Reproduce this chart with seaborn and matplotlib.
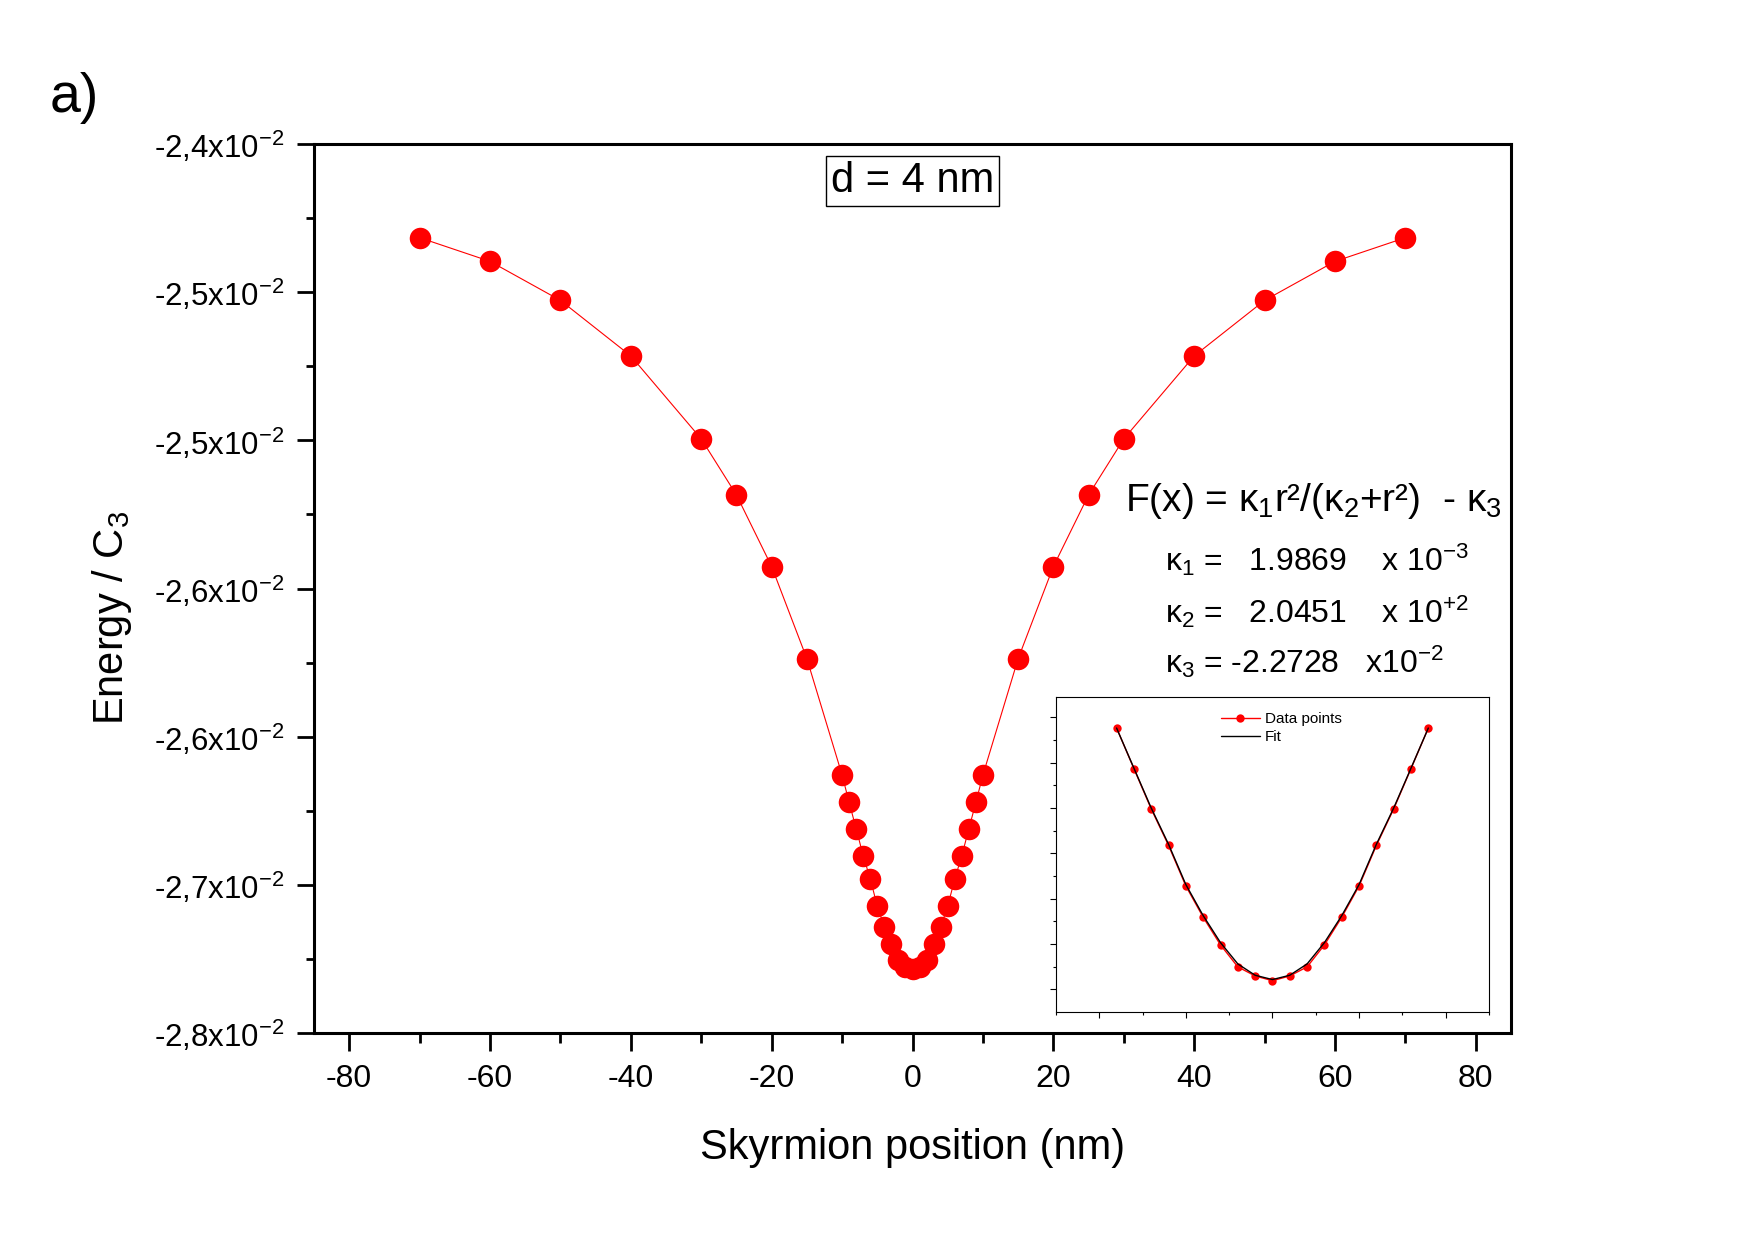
import matplotlib
matplotlib.use("Agg")
import matplotlib.pyplot as plt
import matplotlib.ticker as mticker
import seaborn as sns

sns.set_theme(style="ticks")
plt.rcParams['font.family'] = ['Liberation Sans', 'DejaVu Sans']
plt.rcParams['mathtext.fontset'] = 'custom'
plt.rcParams['mathtext.rm'] = 'Liberation Sans'
plt.rcParams['mathtext.it'] = 'Liberation Sans'
plt.rcParams['mathtext.sf'] = 'Liberation Sans'
plt.rcParams['mathtext.bf'] = 'Liberation Sans:bold'
plt.rcParams['text.color'] = 'black'
plt.rcParams['axes.labelcolor'] = 'black'
plt.rcParams['xtick.color'] = 'black'
plt.rcParams['ytick.color'] = 'black'

# main data: skyrmion position (nm) vs energy / C3
position = [-70, -60, -50, -40, -30, -25, -20, -15, -10, -9, -8, -7, -6, -5, -4, -3, -2, -1,
            0, 1, 2, 3, 4, 5, 6, 7, 8, 9, 10, 15, 20, 25, 30, 40, 50, 60, 70]
energy = [-0.024379, -0.024475, -0.024633, -0.024858, -0.025194, -0.025421, -0.025711,
          -0.026084, -0.026555, -0.026666, -0.026773, -0.026882, -0.026976, -0.027086,
          -0.027170, -0.027241, -0.027304, -0.027331, -0.027342,
          -0.027331, -0.027304, -0.027241, -0.027170, -0.027086, -0.026976, -0.026882,
          -0.026773, -0.026666, -0.026555, -0.026084, -0.025711, -0.025421, -0.025194,
          -0.024858, -0.024633, -0.024475, -0.024379]

y_ticks = [-0.0276, -0.0270, -0.0264, -0.0258, -0.0252, -0.0246, -0.0240]
y_ticklabels = ["-2,8x10$^{-2}$", "-2,7x10$^{-2}$", "-2,6x10$^{-2}$", "-2,6x10$^{-2}$",
                "-2,5x10$^{-2}$", "-2,5x10$^{-2}$", "-2,4x10$^{-2}$"]
x_ticks = [-80, -60, -40, -20, 0, 20, 40, 60, 80]

# inset data (arbitrary units)
inset_x = [-9, -8, -7, -6, -5, -4, -3, -2, -1, 0, 1, 2, 3, 4, 5, 6, 7, 8, 9]
inset_y = [12.53, 10.74, 8.96, 7.35, 5.56, 4.18, 2.96, 1.99, 1.59, 1.38,
           1.59, 1.99, 2.96, 4.18, 5.56, 7.35, 8.96, 10.74, 12.53]
inset_fit = [12.53, 10.76, 9.00, 7.40, 5.62, 4.25, 3.06, 2.12, 1.62, 1.43,
             1.62, 2.12, 3.06, 4.25, 5.62, 7.40, 9.00, 10.76, 12.53]

fig = plt.figure(figsize=(17.55, 12.4), dpi=100)
ax = fig.add_axes([0.1789, 0.1669, 0.6821, 0.7169])

sns.lineplot(x=position, y=energy, color="red", linewidth=0.8, marker="o",
             markersize=15.5, markeredgewidth=0, ax=ax)

ax.set_xlim(-85, 85)
ax.set_ylim(-0.0276, -0.0240)
ax.set_xticks(x_ticks)
ax.set_xticklabels([str(v) for v in x_ticks])
ax.xaxis.set_minor_locator(mticker.FixedLocator([-70, -50, -30, -10, 10, 30, 50, 70]))
ax.set_yticks(y_ticks)
ax.set_yticklabels(y_ticklabels)
ax.yaxis.set_minor_locator(mticker.FixedLocator([-0.0273, -0.0267, -0.0261, -0.0255, -0.0249, -0.0243]))

for s in ax.spines.values():
    s.set_linewidth(2.2)
    s.set_color("black")
ax.tick_params(axis="x", which="major", length=13, width=2, pad=9, labelsize=23, direction="out")
ax.tick_params(axis="x", which="minor", length=7, width=2, direction="out")
ax.tick_params(axis="y", which="major", length=12, width=2, pad=9, labelsize=22.5, direction="out")
ax.tick_params(axis="y", which="minor", length=6, width=2, direction="out")

ax.set_xlabel("Skyrmion position (nm)", fontsize=30)
ax.xaxis.set_label_coords(0.5, -0.107)
ax.set_ylabel("Energy / C$_3$", fontsize=30)
ax.yaxis.set_label_coords(-0.150, 0.467)

ax.text(0.5, 0.958, "d = 4 nm", transform=ax.transAxes, ha="center", va="center",
        fontsize=30, bbox=dict(boxstyle="square,pad=0.12", facecolor="white",
                               edgecolor="black", linewidth=1))

fig.text(0.028, 0.910, "a)", fontsize=40, va="baseline")

fig.text(0.641, 0.588, r"F(x) = $\kappa_1$r²/($\kappa_2$+r²)  - $\kappa_3$", fontsize=28, va="baseline")
fig.text(0.664, 0.540, r"$\kappa_1$ =   1.9869    x 10$^{-3}$", fontsize=23, va="baseline")
fig.text(0.664, 0.498, r"$\kappa_2$ =   2.0451    x 10$^{+2}$", fontsize=23, va="baseline")
fig.text(0.664, 0.457, r"$\kappa_3$ = -2.2728   x10$^{-2}$", fontsize=23, va="baseline")

# inset
ins = fig.add_axes([0.6017, 0.1839, 0.2467, 0.2540])
sns.lineplot(x=inset_x, y=inset_y, color="red", linewidth=1, marker="o", markersize=6,
             markeredgewidth=0, label="Data points", ax=ins)
sns.lineplot(x=inset_x, y=inset_fit, color="black", linewidth=1, label="Fit", ax=ins)
ins.set_xlim(-12.5, 12.5)
ins.set_ylim(0, 13.9)
ins.xaxis.set_major_locator(mticker.FixedLocator([-10, -5, 0, 5, 10]))
ins.xaxis.set_minor_locator(mticker.FixedLocator([-7.5, -2.5, 2.5, 7.5, 12.5, -12.5]))
ins.yaxis.set_major_locator(mticker.FixedLocator([1, 3, 5, 7, 9, 11, 13]))
ins.yaxis.set_minor_locator(mticker.FixedLocator([2, 4, 6, 8, 10, 12]))
ins.set_xticklabels([])
ins.set_yticklabels([])
ins.set_xlabel("")
ins.set_ylabel("")
for s in ins.spines.values():
    s.set_linewidth(0.8)
    s.set_color("black")
ins.tick_params(which="major", length=4.5, width=0.8, direction="out")
ins.tick_params(which="minor", length=2.2, width=0.8, direction="out")
ins.legend(loc="upper left", bbox_to_anchor=(0.345, 1.0), frameon=False, fontsize=11,
           handlelength=2.6, handletextpad=0.3, labelspacing=0.25, borderaxespad=0.6)

fig.savefig("out.png", dpi=100, facecolor="white")
